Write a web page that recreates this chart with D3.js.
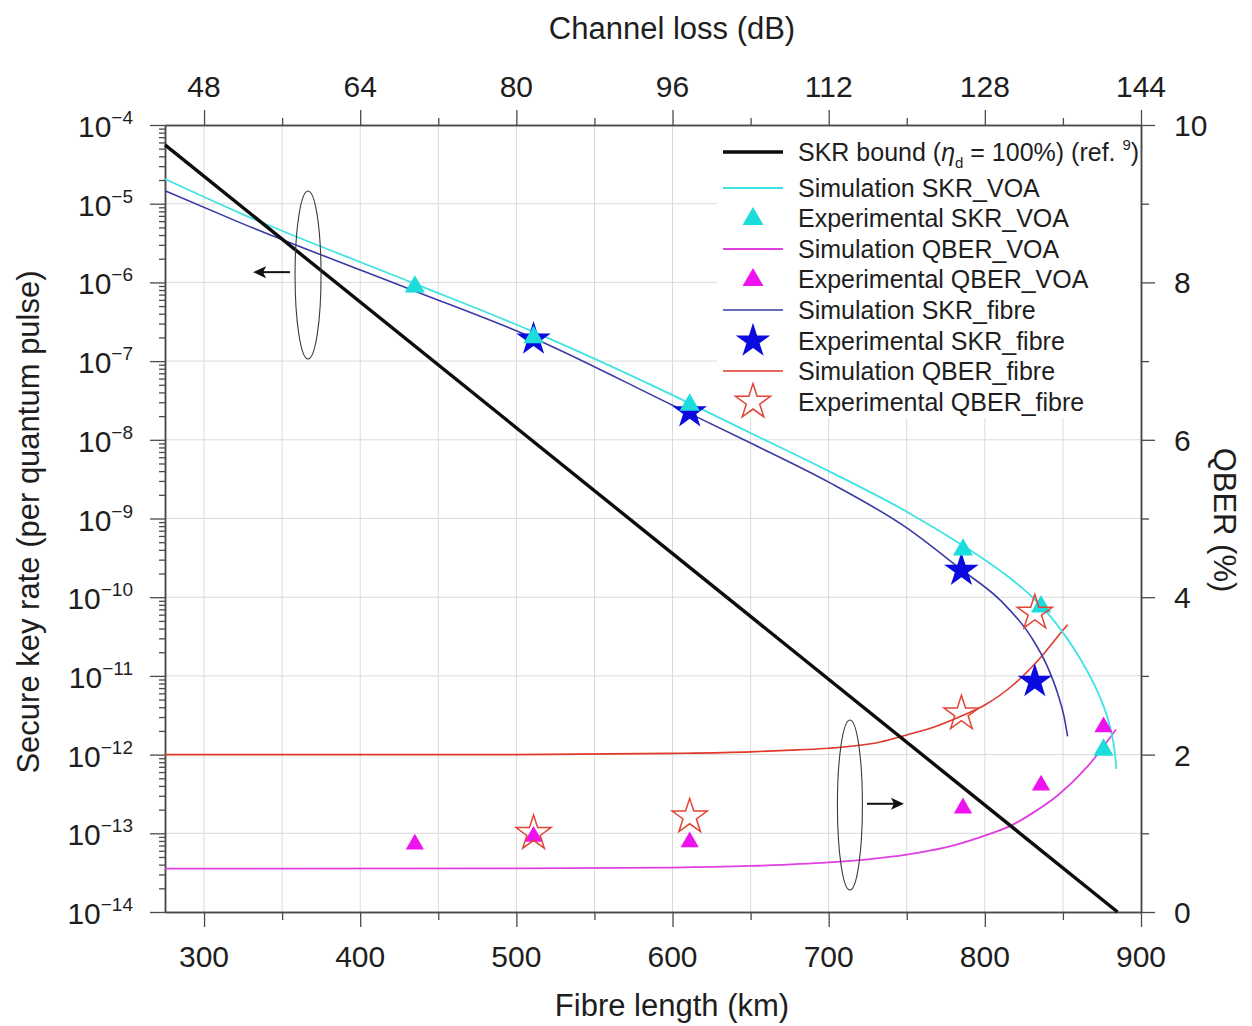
<!DOCTYPE html>
<html>
<head>
<meta charset="utf-8">
<script src="https://cdn.jsdelivr.net/npm/d3@7"></script>
<style>
  body { margin: 0; background: #fff; }
  text { font-family: "Liberation Sans", Arial, Helvetica, sans-serif; fill: #1e1e1e; }
</style>
</head>
<body>
<svg id="chart" width="1252" height="1026"></svg>
<script>
// ---- tick values ----
const fibreTicks = [300, 400, 500, 600, 700, 800, 900];
const fibreMinorTicks = [350, 450, 550, 650, 750, 850];
const lossTicks = [48, 64, 80, 96, 112, 128, 144];
const lossMinorTicks = [56, 72, 88, 104, 120, 136];
const skrExponents = [-14, -13, -12, -11, -10, -9, -8, -7, -6, -5, -4];
const qberTicks = [0, 2, 4, 6, 8, 10];
const qberMinorTicks = [1, 3, 5, 7, 9];

// ---- SKR bound (eta_d = 100%) ----
const boundKm = [275, 885];
const boundSkr = [5.6e-5, 1e-14];

// ---- simulation curves ----
const simSkrVoaKm = [275, 323, 434, 510, 600, 650, 700, 750, 785.4, 800.1, 816.1, 830, 839.8, 849.2, 857.7, 865.2, 872.5, 878, 881.4, 883.3, 884.2];
const simSkrVoa = [2.06e-5, 7.6e-6, 9.8e-7, 2.4e-7, 3.7e-8, 1.22e-8, 4.0e-9, 1.22e-9, 4.6e-10, 2.97e-10, 1.75e-10, 1.02e-10, 6.4e-11, 3.73e-11, 2.12e-11, 1.19e-11, 6.1e-12, 3.16e-12, 1.75e-12, 1.04e-12, 6.6e-13];

const simSkrFibreKm = [275, 323, 434, 510, 600, 650, 700, 750, 785, 810, 829.5, 840, 846.6, 850.8, 853];
const simSkrFibre = [1.46e-5, 5.75e-6, 7.9e-7, 2.0e-7, 2.75e-8, 9.1e-9, 2.9e-9, 7.6e-10, 2.24e-10, 9.1e-11, 3.16e-11, 1.32e-11, 6.0e-12, 3.0e-12, 1.7e-12];

const simQberVoaKm = [275, 500, 600, 650, 700, 725, 750, 775, 800, 817, 830, 846.6, 865.8, 884];
const simQberVoa = [0.55, 0.555, 0.565, 0.585, 0.63, 0.67, 0.73, 0.82, 0.97, 1.10, 1.25, 1.48, 1.85, 2.32];

const simQberFibreKm = [275, 500, 600, 650, 680, 700, 733, 750, 767.5, 785, 800, 819, 836, 850, 853];
const simQberFibre = [2.0, 2.0, 2.015, 2.035, 2.06, 2.08, 2.16, 2.25, 2.35, 2.49, 2.63, 2.90, 3.24, 3.58, 3.65];

// ---- experimental points ----
const expVoaKm = [435, 511, 611, 786, 836, 876];
const expSkrVoa = [8.8e-7, 2.0e-7, 2.77e-8, 4.0e-10, 7.6e-11, 1.15e-12];
const expQberVoa = [0.86, 0.96, 0.89, 1.32, 1.61, 2.35];

const expFibreKm = [511, 611, 785, 832];
const expSkrFibre = [1.9e-7, 2.27e-8, 2.2e-10, 8.5e-12];
const expQberFibre = [1.0, 1.21, 2.52, 3.8];

// ---- axis-pointer annotations (ellipse + arrow) ----
const leftPointer = { km: 366.6, skr: 1.24e-6, fromKm: 355, toKm: 331.4, arrowSkr: 1.35e-6 };
const rightPointer = { km: 713.6, qber: 1.36, fromKm: 724.5, toKm: 748.2, arrowQber: 1.375 };

// ---- colours ----
const C = {
  bound: "#0d0d0d",
  cyanLine: "#3fe3e3", cyanMark: "#1cdcdc",
  magLine: "#e040e0", magMark: "#ee12ee",
  blueLine: "#3a3aa6", blueMark: "#0b0be0",
  redLine: "#e0382a", redMark: "#e04434",
  grid: "#dadada", axis: "#4a4a4a"
};

const svg = d3.select("#chart");
const L = 165, R = 1141, T = 125, B = 912;

const x = d3.scaleLinear().domain([275, 900]).range([L, R]);
const loss = d3.scaleLinear().domain([44, 144]).range([L, R]);
const y = d3.scaleLog().domain([1e-14, 1e-4]).range([B, T]);
const q = d3.scaleLinear().domain([0, 10]).range([B, T]);

// ---- grid ----
const grid = svg.append("g").attr("stroke", C.grid).attr("stroke-width", 1);
grid.selectAll("line.v").data(fibreTicks.concat(fibreMinorTicks).filter(d => d < 900))
  .join("line").attr("x1", d => x(d)).attr("x2", d => x(d)).attr("y1", T).attr("y2", B);
grid.selectAll("line.h").data(skrExponents.slice(1, -1))
  .join("line").attr("y1", d => y(Math.pow(10, d))).attr("y2", d => y(Math.pow(10, d)))
  .attr("x1", L).attr("x2", R);

// ---- legend backdrop ----
svg.append("rect").attr("x", 717).attr("y", T + 1).attr("width", R - 717 - 1).attr("height", 292).attr("fill", "#fff");

// ---- axes ----
function styleAxis(g) {
  g.selectAll("path.domain").attr("stroke", C.axis).attr("stroke-width", 1.5);
  g.selectAll(".tick line").attr("stroke", C.axis).attr("stroke-width", 1.3);
  g.selectAll(".tick text").remove();
}
const minorSkr = [];
for (let e = -14; e < -4; e++) for (let k = 2; k <= 9; k++) minorSkr.push(k * Math.pow(10, e));

svg.append("g").attr("transform", `translate(0,${B})`)
  .call(d3.axisBottom(x).tickValues(fibreTicks).tickSize(15).tickSizeOuter(0)).call(styleAxis);
svg.append("g").attr("transform", `translate(0,${B})`)
  .call(d3.axisBottom(x).tickValues(fibreMinorTicks).tickSize(8).tickSizeOuter(0)).call(styleAxis);
svg.append("g").attr("transform", `translate(0,${T})`)
  .call(d3.axisTop(loss).tickValues(lossTicks).tickSize(15).tickSizeOuter(0)).call(styleAxis);
svg.append("g").attr("transform", `translate(0,${T})`)
  .call(d3.axisTop(loss).tickValues(lossMinorTicks).tickSize(7).tickSizeOuter(0)).call(styleAxis);
svg.append("g").attr("transform", `translate(${L},0)`)
  .call(d3.axisLeft(y).tickValues(skrExponents.map(e => Math.pow(10, e))).tickSize(15).tickSizeOuter(0)).call(styleAxis);
svg.append("g").attr("transform", `translate(${L},0)`)
  .call(d3.axisLeft(y).tickValues(minorSkr).tickSize(6).tickSizeOuter(0)).call(styleAxis);
svg.append("g").attr("transform", `translate(${R},0)`)
  .call(d3.axisRight(q).tickValues(qberTicks).tickSize(14).tickSizeOuter(0)).call(styleAxis);
svg.append("g").attr("transform", `translate(${R},0)`)
  .call(d3.axisRight(q).tickValues(qberMinorTicks).tickSize(8).tickSizeOuter(0)).call(styleAxis);

// ---- tick labels ----
const tickFont = 30;
svg.append("g").selectAll("text").data(fibreTicks).join("text")
  .attr("x", d => x(d)).attr("y", B + 55).attr("text-anchor", "middle")
  .attr("font-size", tickFont).text(d => d);
svg.append("g").selectAll("text").data(lossTicks).join("text")
  .attr("x", d => loss(d)).attr("y", T - 28).attr("text-anchor", "middle")
  .attr("font-size", tickFont).text(d => d);
svg.append("g").selectAll("text").data(qberTicks).join("text")
  .attr("x", R + 33).attr("y", d => q(d) + 11).attr("text-anchor", "start")
  .attr("font-size", tickFont).text(d => d);
const skrLab = svg.append("g").selectAll("text").data(skrExponents).join("text")
  .attr("x", 133).attr("y", d => y(Math.pow(10, d)) + 12).attr("text-anchor", "end");
skrLab.append("tspan").attr("font-size", 30).text("10");
skrLab.append("tspan").attr("font-size", 19).attr("dy", -13).text(d => "\u2212" + Math.abs(d));

// ---- axis titles ----
const titleFont = 31;
svg.append("text").attr("x", 672).attr("y", 39).attr("text-anchor", "middle")
  .attr("font-size", titleFont).text("Channel loss (dB)");
svg.append("text").attr("x", 672).attr("y", 1016).attr("text-anchor", "middle")
  .attr("font-size", titleFont).text("Fibre length (km)");
svg.append("text").attr("transform", "translate(39,522) rotate(-90)").attr("text-anchor", "middle")
  .attr("font-size", titleFont).text("Secure key rate (per quantum pulse)");
svg.append("text").attr("transform", "translate(1214,520) rotate(90)").attr("text-anchor", "middle")
  .attr("font-size", titleFont).text("QBER (%)");

// ---- curves ----
const zip = (a, b) => a.map((v, i) => [v, b[i]]);
const skrLine = d3.line().x(d => x(d[0])).y(d => y(d[1])).curve(d3.curveMonotoneX);
const qberLine = d3.line().x(d => x(d[0])).y(d => q(d[1])).curve(d3.curveMonotoneX);
const curves = svg.append("g").attr("fill", "none");
curves.append("path").attr("d", qberLine(zip(simQberVoaKm, simQberVoa))).attr("stroke", C.magLine).attr("stroke-width", 1.8);
curves.append("path").attr("d", qberLine(zip(simQberFibreKm, simQberFibre))).attr("stroke", C.redLine).attr("stroke-width", 1.6);
curves.append("path").attr("d", skrLine(zip(simSkrVoaKm, simSkrVoa))).attr("stroke", C.cyanLine).attr("stroke-width", 1.8);
curves.append("path").attr("d", skrLine(zip(simSkrFibreKm, simSkrFibre))).attr("stroke", C.blueLine).attr("stroke-width", 1.6);
curves.append("path").attr("d", d3.line().x(d => x(d[0])).y(d => y(d[1]))(zip(boundKm, boundSkr)))
  .attr("stroke", C.bound).attr("stroke-width", 3.4);

// ---- annotations ----
const ann = svg.append("g");
ann.append("ellipse").attr("cx", x(leftPointer.km)).attr("cy", y(leftPointer.skr))
  .attr("rx", 13).attr("ry", 84).attr("fill", "none").attr("stroke", "#3a3a3a").attr("stroke-width", 1.1);
ann.append("ellipse").attr("cx", x(rightPointer.km)).attr("cy", q(rightPointer.qber))
  .attr("rx", 12.5).attr("ry", 85).attr("fill", "none").attr("stroke", "#3a3a3a").attr("stroke-width", 1.1);
function arrow(x1, x2, yy) {
  const dir = Math.sign(x2 - x1);
  ann.append("line").attr("x1", x1).attr("x2", x2 - dir * 8).attr("y1", yy).attr("y2", yy)
    .attr("stroke", "#111").attr("stroke-width", 2);
  ann.append("path").attr("d", `M${x2},${yy} L${x2 - dir * 13},${yy - 6} L${x2 - dir * 10},${yy} L${x2 - dir * 13},${yy + 6} Z`)
    .attr("fill", "#111");
}
arrow(x(leftPointer.fromKm), x(leftPointer.toKm), y(leftPointer.arrowSkr));
arrow(x(rightPointer.fromKm), x(rightPointer.toKm), q(rightPointer.arrowQber));

// ---- markers ----
const star = d3.symbol(d3.symbolStar, 370);
const starOpen = d3.symbol(d3.symbolStar, 380);
const triBig = d3.symbol(d3.symbolTriangle, 175);
const triSmall = d3.symbol(d3.symbolTriangle, 145);
const marks = svg.append("g");
marks.selectAll("path.sf").data(zip(expFibreKm, expSkrFibre)).join("path")
  .attr("d", star).attr("transform", d => `translate(${x(d[0])},${y(d[1])})`).attr("fill", C.blueMark);
marks.selectAll("path.tv").data(zip(expVoaKm, expSkrVoa)).join("path")
  .attr("d", triBig).attr("transform", d => `translate(${x(d[0])},${y(d[1])})`).attr("fill", C.cyanMark);
marks.selectAll("path.qv").data(zip(expVoaKm, expQberVoa)).join("path")
  .attr("d", triSmall).attr("transform", d => `translate(${x(d[0])},${q(d[1])})`).attr("fill", C.magMark);
marks.selectAll("path.qf").data(zip(expFibreKm, expQberFibre)).join("path")
  .attr("d", starOpen).attr("transform", d => `translate(${x(d[0])},${q(d[1])})`)
  .attr("fill", "none").attr("stroke", C.redMark).attr("stroke-width", 1.5);

// ---- legend ----
const legendItems = [
  { type: "line", color: C.bound, width: 3.4 },
  { type: "line", color: C.cyanLine, width: 1.8, label: "Simulation SKR_VOA" },
  { type: "tri", color: C.cyanMark, label: "Experimental SKR_VOA" },
  { type: "line", color: C.magLine, width: 1.8, label: "Simulation QBER_VOA" },
  { type: "tri", color: C.magMark, label: "Experimental QBER_VOA" },
  { type: "line", color: C.blueLine, width: 1.6, label: "Simulation SKR_fibre" },
  { type: "star", color: C.blueMark, label: "Experimental SKR_fibre" },
  { type: "line", color: C.redLine, width: 1.6, label: "Simulation QBER_fibre" },
  { type: "ostar", color: C.redMark, label: "Experimental QBER_fibre" }
];
const legendY = [152, 188, 218, 249, 279, 310, 341, 371, 402];
const lg = svg.append("g");
legendItems.forEach((it, i) => {
  const cy = legendY[i];
  if (it.type === "line") {
    lg.append("line").attr("x1", 723).attr("x2", 783).attr("y1", cy).attr("y2", cy)
      .attr("stroke", it.color).attr("stroke-width", it.width);
  } else if (it.type === "tri") {
    lg.append("path").attr("d", d3.symbol(d3.symbolTriangle, 190)()).attr("transform", `translate(753,${cy + 1})`).attr("fill", it.color);
  } else if (it.type === "star") {
    lg.append("path").attr("d", star()).attr("transform", `translate(753,${cy})`).attr("fill", it.color);
  } else {
    lg.append("path").attr("d", starOpen()).attr("transform", `translate(753,${cy})`)
      .attr("fill", "none").attr("stroke", it.color).attr("stroke-width", 1.5);
  }
  const t = lg.append("text").attr("x", 798).attr("y", cy + 9).attr("font-size", 25);
  if (i === 0) {
    t.append("tspan").text("SKR bound (");
    t.append("tspan").attr("font-style", "italic").text("\u03b7");
    t.append("tspan").attr("font-size", 15).attr("dy", 7).text("d");
    t.append("tspan").attr("dy", -7).text(" = 100%) (ref. ");
    t.append("tspan").attr("font-size", 15).attr("dy", -11).text("9");
    t.append("tspan").attr("dy", 11).text(")");
  } else {
    t.text(it.label);
  }
});
</script>
</body>
</html>
